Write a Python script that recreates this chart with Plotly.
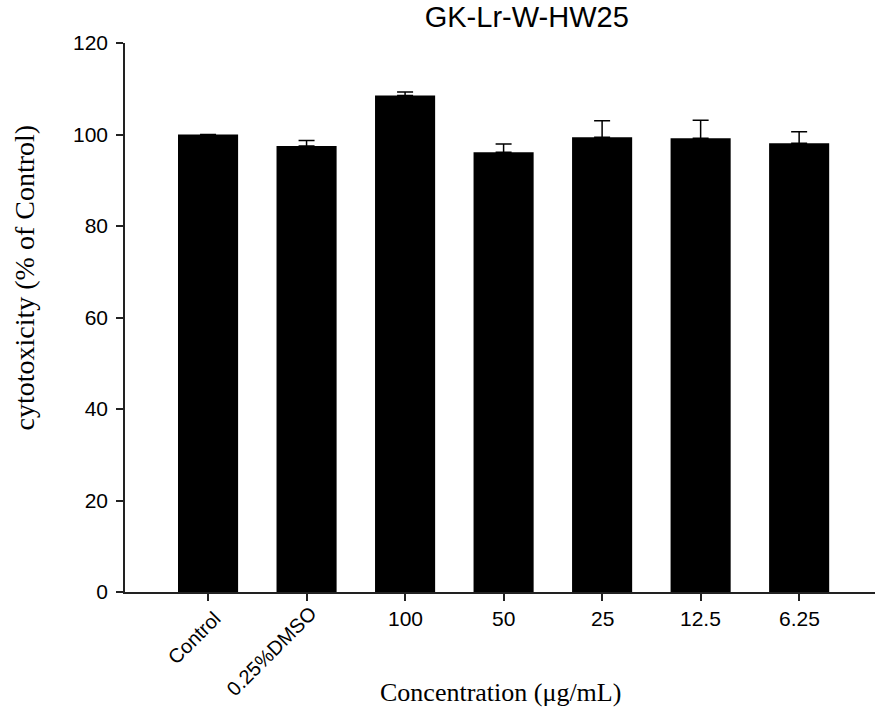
import plotly.graph_objects as go

# Cytotoxicity of GK-Lr-W-HW25 extract by treatment
categories = ["Control", "0.25%DMSO", "100", "50", "25", "12.5", "6.25"]
mean_values = [100.0, 97.5, 108.5, 96.1, 99.4, 99.2, 98.1]
sem_values = [0.0, 1.2, 0.8, 1.8, 3.6, 3.9, 2.5]
y_ticks = [0, 20, 40, 60, 80, 100, 120]

positions = list(range(len(categories)))

fig = go.Figure()
fig.add_trace(go.Bar(
    x=positions,
    y=mean_values,
    width=0.61,
    marker=dict(color="black", line=dict(width=0)),
    error_y=dict(
        type="data",
        symmetric=False,
        array=sem_values,
        arrayminus=[0] * len(sem_values),
        color="black",
        thickness=1.5,
        width=8,
        visible=True,
    ),
    showlegend=False,
))

sans = "Liberation Sans, Arial, Helvetica, sans-serif"
serif = "Liberation Serif, Times New Roman, serif"

# Category labels: first two slanted, the concentrations horizontal
annotations = []
slant_shifts = {0: (-14, -46), 1: (-35, -59)}
for i, label in enumerate(categories):
    if i in slant_shifts:
        dx, dy = slant_shifts[i]
        annotations.append(dict(
            x=i, y=0, xref="x", yref="y", text=label, showarrow=False,
            textangle=-45, xshift=dx, yshift=dy,
            xanchor="center", yanchor="middle",
            font=dict(family=sans, size=20, color="black"),
        ))
    else:
        annotations.append(dict(
            x=i, y=0, xref="x", yref="y", text=label, showarrow=False,
            yshift=-26, xanchor="center", yanchor="middle",
            font=dict(family=sans, size=21, color="black"),
        ))

annotations.append(dict(
    x=0, y=0.5, xref="paper", yref="paper", xshift=-101, yshift=40,
    xanchor="center", yanchor="middle",
    text="cytotoxicity (% of Control)", showarrow=False, textangle=-90,
    font=dict(family=serif, size=28, color="black"),
))
annotations.append(dict(
    x=0.5, y=0, xref="paper", yref="paper", yshift=-100,
    xanchor="center", yanchor="middle",
    text="Concentration (\u03bcg/mL)", showarrow=False,
    font=dict(family=serif, size=26, color="black"),
))

fig.update_layout(
    width=875,
    height=713,
    margin=dict(l=125, r=0, t=43, b=121),
    paper_bgcolor="white",
    plot_bgcolor="white",
    title=dict(
        text="GK-Lr-W-HW25",
        x=0.602, xref="container", xanchor="center",
        y=0.976, yref="container", yanchor="middle",
        font=dict(family=sans, size=29, color="black"),
    ),
    xaxis=dict(
        range=[-0.843, 6.77],
        tickvals=positions,
        showticklabels=False,
        ticks="outside",
        ticklen=7,
        tickwidth=1.5,
        tickcolor="#222",
        showline=True,
        linecolor="#222",
        linewidth=1.5,
        showgrid=False,
        zeroline=False,
    ),
    yaxis=dict(
        range=[0, 120],
        tickvals=y_ticks,
        ticks="outside",
        ticklen=7,
        tickwidth=1.5,
        tickcolor="#222",
        showline=True,
        linecolor="#222",
        linewidth=1.5,
        showgrid=False,
        zeroline=False,
        ticklabelstandoff=4,
        tickfont=dict(family=sans, size=21, color="black"),
    ),
    annotations=annotations,
)

fig.write_html("out.html")
